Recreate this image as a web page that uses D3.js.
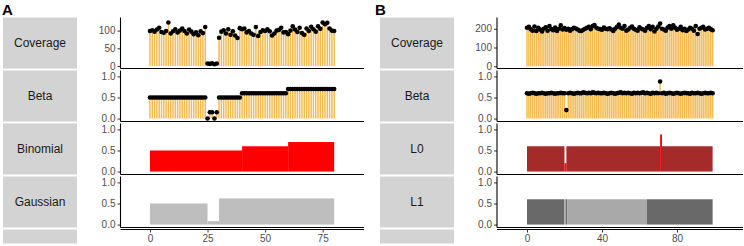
<!DOCTYPE html>
<meta charset="utf-8">
<script src="https://d3js.org/d3.v7.min.js"></script>
<style>
  body { margin: 0; background: #fff; }
  text { font-family: "Liberation Sans", Arial, sans-serif; }
</style>
<div id="chart"></div>
<script>
// ---- data, panel A ----
var rowNamesA = ["Coverage", "Beta", "Binomial", "Gaussian"];
var coverageA = [99, 101, 97, 103, 108, 96, 94, 99, 123, 92, 98, 104, 95, 100, 106, 99, 92, 103, 97, 90, 95, 87, 98, 93, 110,
                 7, 6, 8, 5, 7,
                 80, 97, 101, 92, 104, 88, 98, 86, 79, 107, 104, 106, 95, 99, 92, 88, 110, 85, 96, 101, 99, 104, 98, 86, 92, 100, 102, 108, 95, 96, 90, 100, 112, 103, 96, 108, 93, 88, 106, 99, 111, 104, 97, 112, 105, 123, 118, 122, 106, 100, 99];
var betaA = [0.50, 0.50, 0.50, 0.50, 0.50, 0.50, 0.50, 0.50, 0.50, 0.50, 0.50, 0.50, 0.50, 0.50, 0.50, 0.50, 0.50, 0.50, 0.50, 0.50, 0.50, 0.50, 0.50, 0.50, 0.50,
             0.00, 0.15, 0.15, 0.00, 0.15,
             0.50, 0.50, 0.50, 0.50, 0.50, 0.50, 0.50, 0.50, 0.50, 0.50,
             0.60, 0.60, 0.60, 0.60, 0.60, 0.60, 0.60, 0.60, 0.60, 0.60, 0.60, 0.60, 0.60, 0.60, 0.60, 0.60, 0.60, 0.60, 0.60, 0.60,
             0.70, 0.70, 0.70, 0.70, 0.70, 0.70, 0.70, 0.70, 0.70, 0.70, 0.70, 0.70, 0.70, 0.70, 0.70, 0.70, 0.70, 0.70, 0.70, 0.70, 0.70];
// step segments: start, end, value
var binomialA = [[0, 40, 0.5], [40, 60, 0.6], [60, 80, 0.7]];
var gaussianA = [[0, 25, 0.5], [25, 30, 0.08], [30, 80, 0.62]];
var xTicksA = [0, 25, 50, 75];

// ---- data, panel B ----
var rowNamesB = ["Coverage", "Beta", "L0", "L1"];
var coverageB = [205, 210, 198, 190, 212, 188, 205, 196, 185, 200, 208, 190, 215, 198, 192, 206, 188, 200, 218, 196,
                 204, 195, 200, 190, 198, 205, 201, 196, 190, 188, 195, 200, 205, 210, 198, 214, 220, 205, 200, 198,
                 195, 206, 200, 198, 202, 196, 188, 200, 210, 222, 205, 200, 215, 190, 196, 205, 212, 200, 195, 190,
                 208, 200, 196, 190, 205, 215, 198, 210, 185, 200, 212, 228, 200, 196, 190, 206, 215, 200, 218, 205,
                 195, 200, 210, 192, 200, 188, 196, 205, 200, 190, 215, 172, 200, 205, 210, 196, 200, 205, 198, 192];
var betaB = [0.60, 0.59, 0.60, 0.61, 0.60, 0.59, 0.60, 0.60, 0.61, 0.60, 0.59, 0.60, 0.60, 0.61, 0.60, 0.59, 0.60, 0.60, 0.61, 0.60,
             0.60, 0.20, 0.60, 0.61, 0.60, 0.59, 0.60, 0.61, 0.60, 0.60, 0.62, 0.61, 0.60, 0.61, 0.60, 0.62, 0.61, 0.60, 0.61, 0.60,
             0.60, 0.61, 0.60, 0.59, 0.60, 0.61, 0.60, 0.59, 0.60, 0.61, 0.62, 0.60, 0.61, 0.60, 0.61, 0.60, 0.59, 0.61, 0.60, 0.61,
             0.60, 0.61, 0.62, 0.60, 0.61, 0.60, 0.59, 0.61, 0.60, 0.61, 0.60, 0.88, 0.60, 0.61, 0.59, 0.60, 0.61, 0.60, 0.59, 0.60,
             0.61, 0.60, 0.59, 0.60, 0.61, 0.60, 0.60, 0.59, 0.61, 0.60, 0.60, 0.61, 0.60, 0.59, 0.60, 0.61, 0.60, 0.60, 0.61, 0.60];
// step segments: start, end, value, colour group
var l0B = [[0, 20, 0.6, "fit"], [20, 21, 0.2, "out"], [21, 71, 0.6, "fit"], [71, 72, 0.88, "out"], [72, 99, 0.6, "fit"]];
var l1B = [[0, 20, 0.6, "a"], [20.5, 21.5, 0.6, "a"], [21.5, 64, 0.6, "b"], [64, 99, 0.6, "a"]];
var xTicksB = [0, 40, 80];

var W = 744, H = 246;
var svg = d3.select("#chart").append("svg").attr("width", W).attr("height", H);

// row geometry shared by both panels
var rowTop = function(i) { return 17.5 + i * 53; };
var rowH = 51;
var unitDomain = [-0.07, 1.14];

function lollipop(g, x, y, vals, r) {
  g.selectAll(".stem").data(vals).enter().append("line")
    .attr("x1", function(d, i) { return x(i); })
    .attr("x2", function(d, i) { return x(i); })
    .attr("y1", y(0))
    .attr("y2", function(d) { return y(d); })
    .attr("stroke", "#f5bb50")
    .attr("stroke-width", 1.5);
  g.selectAll(".pt").data(vals).enter().append("circle")
    .attr("cx", function(d, i) { return x(i); })
    .attr("cy", function(d) { return y(d); })
    .attr("r", r)
    .attr("fill", "#000");
}

function steps(g, x, y, segs, colour) {
  g.selectAll(".seg").data(segs).enter().append("rect")
    .attr("x", function(d) { return x(d[0]); })
    .attr("width", function(d) { return x(d[1]) - x(d[0]); })
    .attr("y", function(d) { return y(d[2]); })
    .attr("height", function(d) { return y(0) - y(d[2]); })
    .attr("fill", colour);
}

function panel(opt) {
  var g = svg.append("g");
  g.append("text").attr("x", opt.labelX).attr("y", 15)
    .attr("font-size", 15).attr("font-weight", "bold").attr("fill", "#000")
    .text(opt.label);

  var x = d3.scaleLinear().domain(opt.xDomain).range([opt.axisX, opt.right]);

  // strips incl. the blank one under the last row
  for (var i = 0; i < 5; i++) {
    var h = i < 4 ? rowH : 14;
    g.append("rect").attr("x", opt.stripX).attr("y", rowTop(i))
      .attr("width", opt.stripW).attr("height", h).attr("fill", "#d3d3d3");
    if (i < 4) {
      g.append("text").attr("x", opt.stripX + opt.stripW / 2).attr("y", rowTop(i) + rowH / 2 + 4)
        .attr("text-anchor", "middle").attr("font-size", 12).attr("fill", "#1a1a1a")
        .text(opt.rows[i]);
    }
  }

  opt.facets.forEach(function(f, i) {
    var top = rowTop(i), bot = top + rowH;
    var y = d3.scaleLinear().domain(f.yDomain).range([bot, top]);
    var fg = g.append("g");
    f.draw(fg, x, y);
    // y axis
    var ax = g.append("g").attr("transform", "translate(" + opt.axisX + ",0)")
      .call(d3.axisLeft(y).tickValues(f.ticks).tickSize(3).tickPadding(2)
        .tickFormat(f.fmt));
    ax.select(".domain").remove();
    ax.selectAll("line").attr("stroke", "#333");
    ax.selectAll("text").attr("font-size", 10).attr("fill", "#4d4d4d")
      .attr("font-family", "Liberation Sans, Arial, sans-serif");
    g.append("line").attr("x1", opt.axisX).attr("x2", opt.axisX)
      .attr("y1", top).attr("y2", bot).attr("stroke", "#000").attr("stroke-width", 1.1);
    g.append("line").attr("x1", opt.axisX).attr("x2", opt.right)
      .attr("y1", bot).attr("y2", bot).attr("stroke", "#000").attr("stroke-width", 1.1);
  });

  // x axis below the last row
  var xa = g.append("g").attr("transform", "translate(0," + rowTop(4) + ")")
    .call(d3.axisBottom(x).tickValues(opt.xTicks).tickSize(3).tickPadding(2));
  xa.select(".domain").remove();
  xa.selectAll("line").attr("stroke", "#333");
  xa.selectAll("text").attr("font-size", 10).attr("fill", "#4d4d4d")
    .attr("font-family", "Liberation Sans, Arial, sans-serif");
  g.append("line").attr("x1", opt.axisX).attr("x2", opt.right)
    .attr("y1", rowTop(4)).attr("y2", rowTop(4)).attr("stroke", "#000").attr("stroke-width", 1.1);
}

var f1 = d3.format(".1f");

panel({
  label: "A", labelX: 2, stripX: 3, stripW: 74, axisX: 120.5, right: 364,
  xDomain: [-12.8, 92.95], rows: rowNamesA, xTicks: xTicksA,
  facets: [
    { yDomain: [-7, 137], ticks: [0, 50, 100], fmt: d3.format("d"),
      draw: function(g, x, y) { lollipop(g, x, y, coverageA, 2.3); } },
    { yDomain: unitDomain, ticks: [0, 0.5, 1], fmt: f1,
      draw: function(g, x, y) { lollipop(g, x, y, betaA, 2.3); } },
    { yDomain: unitDomain, ticks: [0, 0.5, 1], fmt: f1,
      draw: function(g, x, y) { steps(g, x, y, binomialA, "#ff0000"); } },
    { yDomain: unitDomain, ticks: [0, 0.5, 1], fmt: f1,
      draw: function(g, x, y) { steps(g, x, y, gaussianA, "#bebebe"); } }
  ]
});

panel({
  label: "B", labelX: 375, stripX: 380, stripW: 74, axisX: 497, right: 743,
  xDomain: [-16, 115.2], rows: rowNamesB, xTicks: xTicksB,
  facets: [
    { yDomain: [-12, 260], ticks: [0, 100, 200], fmt: d3.format("d"),
      draw: function(g, x, y) { lollipop(g, x, y, coverageB, 2.3); } },
    { yDomain: unitDomain, ticks: [0, 0.5, 1], fmt: f1,
      draw: function(g, x, y) { lollipop(g, x, y, betaB, 2.3); } },
    { yDomain: unitDomain, ticks: [0, 0.5, 1], fmt: f1,
      draw: function(g, x, y) {
        steps(g, x, y, l0B.filter(function(d) { return d[3] === "fit"; }), "#a52a2a");
        steps(g, x, y, l0B.filter(function(d) { return d[3] === "out"; }), "#ff0000");
      } },
    { yDomain: unitDomain, ticks: [0, 0.5, 1], fmt: f1,
      draw: function(g, x, y) {
        steps(g, x, y, l1B.filter(function(d) { return d[3] === "a"; }), "#696969");
        steps(g, x, y, l1B.filter(function(d) { return d[3] === "b"; }), "#a9a9a9");
      } }
  ]
});
</script>
